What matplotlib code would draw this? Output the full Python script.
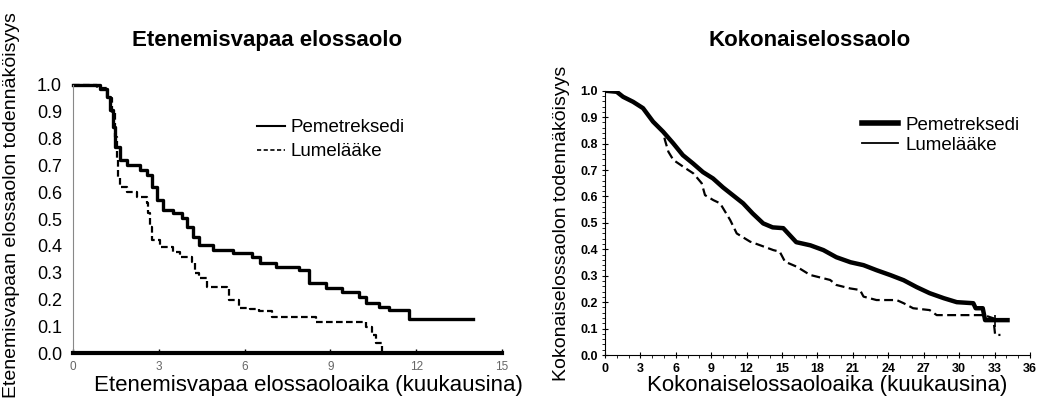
import numpy as np
import matplotlib.pyplot as plt
from matplotlib.lines import Line2D

plt.rcParams['font.family'] = ['Liberation Sans', 'DejaVu Sans']

# progression-free survival (left panel), Kaplan-Meier steps
pfs_t_pem = [0, 0.94, 1.18, 1.29, 1.39, 1.46, 1.64, 1.88, 2.33, 2.58, 2.75, 2.93, 3.14,
             3.48, 3.80, 3.97, 4.18, 4.42, 4.88, 5.58, 6.27, 6.52, 7.1, 7.9, 8.26, 8.85,
             9.41, 10.0, 10.24, 10.7, 11.05, 11.74, 14.0]
pfs_s_pem = [1.0, 0.985, 0.955, 0.907, 0.843, 0.769, 0.72, 0.70, 0.683, 0.664, 0.62, 0.571,
             0.534, 0.522, 0.504, 0.47, 0.433, 0.403, 0.384, 0.373, 0.358, 0.336, 0.321,
             0.31, 0.261, 0.243, 0.228, 0.209, 0.187, 0.172, 0.16, 0.127, 0.127]
pfs_t_plc = [0, 0.83, 1.18, 1.36, 1.46, 1.53, 1.57, 1.64, 1.88, 2.23, 2.58, 2.61, 2.68, 2.75,
             3.03, 3.48, 3.73, 4.15, 4.25, 4.42, 4.67, 5.37, 5.47, 5.82, 6.17, 6.5, 6.97,
             8.36, 8.5, 10.0, 10.24, 10.45, 10.59, 10.8]
pfs_s_plc = [1.0, 0.99, 0.95, 0.895, 0.806, 0.72, 0.657, 0.62, 0.60, 0.582, 0.56, 0.522, 0.47,
             0.422, 0.396, 0.377, 0.358, 0.34, 0.30, 0.28, 0.246, 0.243, 0.198, 0.168, 0.165,
             0.155, 0.134, 0.134, 0.116, 0.116, 0.097, 0.067, 0.037, 0.0]

# overall survival (right panel)
os_t_pem = [0, 0.99, 1.53, 2.38, 3.22, 4.07, 4.92, 5.76, 6.6, 7.45, 8.3, 9.15, 10.0, 10.85,
            11.7, 12.5, 13.4, 14.2, 15.1, 16.2, 17.4, 18.5, 19.6, 20.8, 21.9, 23.0, 24.2,
            25.3, 26.4, 27.5, 28.7, 29.8, 31.2, 31.4, 32.0, 32.2, 34.1]
os_s_pem = [1.0, 0.996, 0.977, 0.958, 0.934, 0.883, 0.845, 0.802, 0.756, 0.725, 0.692, 0.668,
            0.634, 0.604, 0.574, 0.536, 0.498, 0.483, 0.48, 0.427, 0.415, 0.397, 0.37, 0.351,
            0.34, 0.321, 0.302, 0.283, 0.257, 0.234, 0.215, 0.2, 0.196, 0.177, 0.177, 0.132,
            0.132]
os_t_plc = [0, 0.99, 1.53, 2.38, 3.22, 4.07, 4.92, 5.08, 5.37, 5.79, 6.64, 7.49, 8.19, 8.47,
            9.18, 9.75, 10.6, 11.16, 12.29, 13.1, 14.26, 14.8, 15.25, 16.25, 17.37, 19.07,
            19.6, 20.76, 21.6, 21.9, 23.0, 24.7, 25.3, 26.1, 27.5, 28.1, 32.1, 32.9, 33.05,
            33.5]
os_s_plc = [1.0, 0.996, 0.977, 0.958, 0.934, 0.883, 0.845, 0.813, 0.769, 0.738, 0.712, 0.687,
            0.65, 0.605, 0.586, 0.574, 0.511, 0.46, 0.429, 0.416, 0.397, 0.391, 0.353, 0.334,
            0.303, 0.284, 0.265, 0.252, 0.246, 0.221, 0.208, 0.208, 0.196, 0.177, 0.17, 0.151,
            0.151, 0.139, 0.076, 0.076]
os_cens_t = [33.05]
os_cens_s = [0.13]

lbl_pem = 'Pemetreksedi'
lbl_plc = 'Lumelääke'

fig = plt.figure(figsize=(10.39, 4.16), dpi=100)

#%% left panel
ax1 = fig.add_axes([0.0703, 0.1514, 0.4129, 0.6443])
ax1.step(pfs_t_pem, pfs_s_pem, where='post', color='black', lw=2.4, clip_on=False)
ax1.step(pfs_t_plc, pfs_s_plc, where='post', color='black', lw=1.6, ls=(0, (3, 1.5)),
         clip_on=False)
ax1.set_xlim(0, 15)
ax1.set_ylim(0, 1)
ax1.set_xticks(np.arange(0, 16, 3))
ax1.set_yticks(np.arange(0, 1.01, 0.1))
ax1.yaxis.set_major_formatter(plt.FuncFormatter(lambda v, p: '%.1f' % v))
for s in ['top', 'right']:
    ax1.spines[s].set_visible(False)
ax1.spines['bottom'].set_linewidth(3)
ax1.spines['left'].set_linewidth(0.8)
ax1.spines['left'].set_color('#888888')
ax1.tick_params(axis='x', length=3, width=1, direction='in', labelsize=8.5,
                labelcolor='#666666', pad=6)
ax1.tick_params(axis='y', length=0, labelsize=13, pad=8)
ax1.legend(handles=[Line2D([], [], color='black', lw=1.5),
                    Line2D([], [], color='black', lw=1.2, ls=(0, (2.5, 1.5)))],
           labels=[lbl_pem, lbl_plc], loc='upper left', bbox_to_anchor=(0.411, 0.9),
           frameon=False, fontsize=13.5, handlelength=1.5, handletextpad=0.27,
           labelspacing=0.35, borderaxespad=0)
fig.text(0.257, 0.889, 'Etenemisvapaa elossaolo', ha='center', va='baseline',
         fontsize=16, fontweight='bold')
fig.text(0.297, 0.060, 'Etenemisvapaa elossaoloaika (kuukausina)', ha='center',
         va='baseline', fontsize=16)
fig.text(0.0115, 0.508, 'Etenemisvapaan elossaolon todennäköisyys', ha='center',
         va='center', rotation=90, fontsize=14)

#%% right panel
ax2 = fig.add_axes([0.5823, 0.1466, 0.409, 0.6353])
ax2.plot(os_t_pem, os_s_pem, color='black', lw=3.2, zorder=3)
ax2.plot(os_t_plc, os_s_plc, color='black', lw=1.6, ls=(0, (4, 2)), zorder=2)
ax2.plot(os_cens_t, os_cens_s, ls='none', marker='|', ms=9, mew=1.2, color='black')
ax2.set_xlim(0, 36)
ax2.set_ylim(0, 1)
ax2.set_xticks(np.arange(0, 37, 3))
ax2.set_xticks(np.arange(0, 37, 1), minor=True)
ax2.set_yticks(np.arange(0, 1.01, 0.1))
ax2.set_yticks(np.arange(0, 1.01, 0.02), minor=True)
ax2.yaxis.set_major_formatter(plt.FuncFormatter(lambda v, p: '%.1f' % v))
for s in ['top', 'right']:
    ax2.spines[s].set_visible(False)
for s in ['left', 'bottom']:
    ax2.spines[s].set_linewidth(0.8)
ax2.tick_params(which='major', length=4, width=0.8, direction='inout')
ax2.tick_params(which='minor', length=2, width=0.6, direction='out')
for lab in ax2.get_xticklabels() + ax2.get_yticklabels():
    lab.set_fontweight('bold')
    lab.set_fontsize(9)
ax2.tick_params(axis='x', pad=4)
ax2.tick_params(axis='y', pad=3)
ax2.legend(handles=[Line2D([], [], color='black', lw=4),
                    Line2D([], [], color='black', lw=1.3)],
           labels=[lbl_pem, lbl_plc], loc='upper left', bbox_to_anchor=(0.587, 0.931),
           frameon=False, fontsize=13.5, handlelength=1.9, handletextpad=0.4,
           labelspacing=0.15, borderaxespad=0)
fig.text(0.779, 0.889, 'Kokonaiselossaolo', ha='center', va='baseline',
         fontsize=16, fontweight='bold')
fig.text(0.796, 0.060, 'Kokonaiselossaoloaika (kuukausina)', ha='center',
         va='baseline', fontsize=16)
fig.text(0.540, 0.462, 'Kokonaiselossaolon todennäköisyys', ha='center',
         va='center', rotation=90, fontsize=14)

fig.savefig('out.png', dpi=100)
